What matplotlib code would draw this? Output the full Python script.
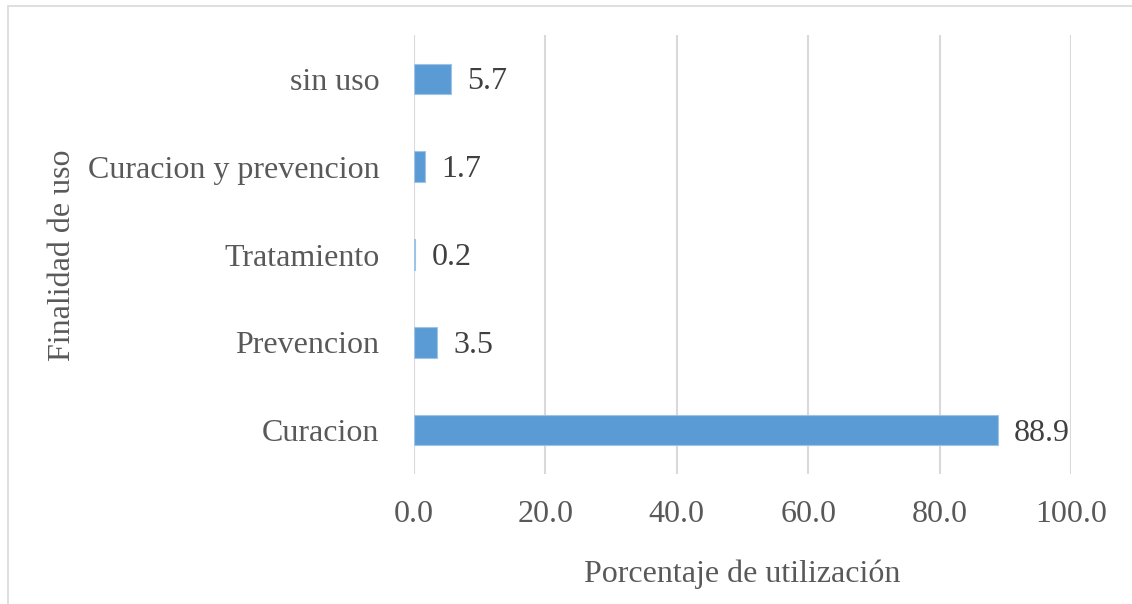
import matplotlib
matplotlib.use('Agg')
import matplotlib.pyplot as plt
from matplotlib.patches import Rectangle

# data (bottom to top)
categories = ["Curacion", "Prevencion", "Tratamiento", "Curacion y prevencion", "sin uso"]
values = [88.9, 3.5, 0.2, 1.7, 5.7]
xticks = [0, 20, 40, 60, 80, 100]

plt.rcParams['font.family'] = ['Liberation Serif', 'DejaVu Serif']
plt.rcParams['font.size'] = 23

fig = plt.figure(figsize=(11.32, 6.04), dpi=100)
ax = fig.add_axes([414/1132, 1-474/604, (1071-414)/1132, (474-35)/604])

pos = range(len(categories))
bars = ax.barh(pos, values, height=0.35, color='#5B9BD5', edgecolor='#9DC3E6', linewidth=0.8, zorder=3)

for b, v in zip(bars, values):
    ax.annotate(f"{v:.1f}", (b.get_width(), b.get_y() + b.get_height()/2),
                xytext=(11.5, -7.6), textcoords='offset points',
                ha='left', va='baseline', color='#404040', fontsize=23)

ax.set_xlim(0, 100)
ax.set_ylim(-0.5, len(categories) - 0.5)
ax.set_xticks(xticks)
ax.set_xticklabels([f"{t:.1f}" for t in xticks])
ax.set_yticks(list(pos))
ax.set_yticklabels(categories)
ax.tick_params(length=0, colors='#595959', labelsize=23)
ax.tick_params(axis='x', pad=19)
ax.tick_params(axis='y', pad=25)
ax.grid(axis='x', color='#d9d9d9', linewidth=1.5, zorder=0)
ax.set_axisbelow(True)
for s in ax.spines.values():
    s.set_visible(False)

fig.text(0.5*(414+1071)/1132, 1-574/604, "Porcentaje de utilización",
         ha='center', va='center', color='#595959', fontsize=23)
fig.text(62/1132, 1-255/604, "Finalidad de uso", rotation=90,
         ha='center', va='center', color='#595959', fontsize=23)

# outer chart border
fig.patches.append(Rectangle((8/1132, -0.01), 1.02, 1-6/604 + 0.01, transform=fig.transFigure,
                             fill=False, edgecolor='#d9d9d9', linewidth=1.2))

fig.savefig("out.png", dpi=100)
